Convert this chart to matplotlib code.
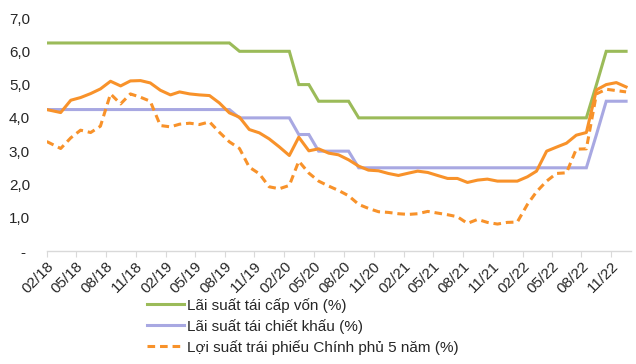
import numpy as np
import pandas as pd
import matplotlib
matplotlib.use('Agg')
import matplotlib.pyplot as plt
import matplotlib.dates as mdates

plt.rcParams['font.family'] = ['Liberation Sans', 'DejaVu Sans']

# monthly observations 02/18 -> 12/22 (first at start of month, then mid-month)
months = pd.date_range('2018-02-01', '2022-12-01', freq='MS')
dates = [months[0]] + list(months[1:] + pd.Timedelta(days=15))

tai_cap_von = [6.25] * 19 + [6.0] * 6 + [5.0] * 2 + [4.5] * 4 + [4.0] * 24 + [5.0] + [6.0] * 3
tai_chiet_khau = [4.25] * 19 + [4.0] * 6 + [3.5] * 2 + [3.0] * 4 + [2.5] * 24 + [3.5] + [4.5] * 3
lai_suat_lnh = [4.25, 4.16, 4.53, 4.61, 4.73, 4.87, 5.10, 4.96, 5.11, 5.12,
                5.05, 4.83, 4.69, 4.78, 4.72, 4.69, 4.67, 4.45, 4.15, 4.02,
                3.65, 3.55, 3.37, 3.13, 2.87, 3.42, 3.01, 3.07, 2.94, 2.89,
                2.74, 2.55, 2.43, 2.41, 2.33, 2.27, 2.34, 2.40, 2.36, 2.27,
                2.18, 2.18, 2.06, 2.13, 2.16, 2.10, 2.10, 2.10, 2.23, 2.40,
                3.00, 3.12, 3.24, 3.48, 3.56, 4.84, 5.00, 5.06, 4.93]
tpcp_5y = [3.29, 3.08, 3.40, 3.63, 3.56, 3.75, 4.72, 4.42, 4.72, 4.62,
           4.50, 3.77, 3.73, 3.81, 3.84, 3.80, 3.88, 3.57, 3.28, 3.08,
           2.52, 2.32, 1.93, 1.87, 1.97, 2.70, 2.34, 2.10, 1.95, 1.82,
           1.66, 1.40, 1.28, 1.18, 1.16, 1.12, 1.10, 1.12, 1.19, 1.14,
           1.09, 1.03, 0.83, 0.95, 0.86, 0.81, 0.86, 0.87, 1.40, 1.78,
           2.10, 2.33, 2.35, 3.06, 3.07, 4.72, 4.86, 4.82, 4.78]

labels = ['Lãi suất tái cấp vốn (%)', 'Lãi suất tái chiết khấu (%)',
          'Lợi suất trái phiếu Chính phủ 5 năm (%)']
yticks = [0, 1, 2, 3, 4, 5, 6, 7]
ytick_labels = ['- ', '1,0', '2,0', '3,0', '4,0', '5,0', '6,0', '7,0']

c_green = '#9bbb59'
c_purple = '#a8a8e2'
c_orange = '#f8922a'
txt = '#262626'

fig = plt.figure(figsize=(6.36, 3.64), dpi=100)
ax = fig.add_axes([0.0734, 0.3104, 0.9187, 0.6401])

l1, = ax.plot(dates, tai_cap_von, color=c_green, lw=2.2, solid_joinstyle='miter')
l2, = ax.plot(dates, tai_chiet_khau, color=c_purple, lw=2.2, solid_joinstyle='miter')
l4, = ax.plot(dates, lai_suat_lnh, color=c_orange, lw=2.2)
l3, = ax.plot(dates, tpcp_5y, color=c_orange, lw=2.2, dashes=(2.5, 1.6))

ax.set_ylim(0, 7)
ax.set_yticks(yticks)
ax.set_yticklabels(ytick_labels)
ax.set_xlim(pd.Timestamp('2018-02-01'), pd.Timestamp('2022-12-31'))
ax.set_xticks(pd.date_range('2018-02-01', '2022-11-01', freq='3MS'))
ax.xaxis.set_major_formatter(mdates.DateFormatter('%m/%y'))

for s in ['top', 'right', 'left']:
    ax.spines[s].set_visible(False)
ax.spines['bottom'].set_color('#d9d9d9')
ax.spines['bottom'].set_linewidth(1)
ax.tick_params(axis='y', length=0, pad=12, labelsize=11, labelcolor=txt)
ax.tick_params(axis='x', length=4, color='#d9d9d9', pad=2, labelsize=11, labelcolor=txt)
plt.setp(ax.get_xticklabels(), rotation=45, ha='right', va='top', rotation_mode='anchor')

fig.legend([l1, l2, l3], labels, loc='upper left', bbox_to_anchor=(0.231, 0.182),
           frameon=False, fontsize=11, handlelength=2.4, handletextpad=0.2,
           labelspacing=0.4, borderpad=0, borderaxespad=0, labelcolor=txt)

fig.savefig('out.png', dpi=100)
